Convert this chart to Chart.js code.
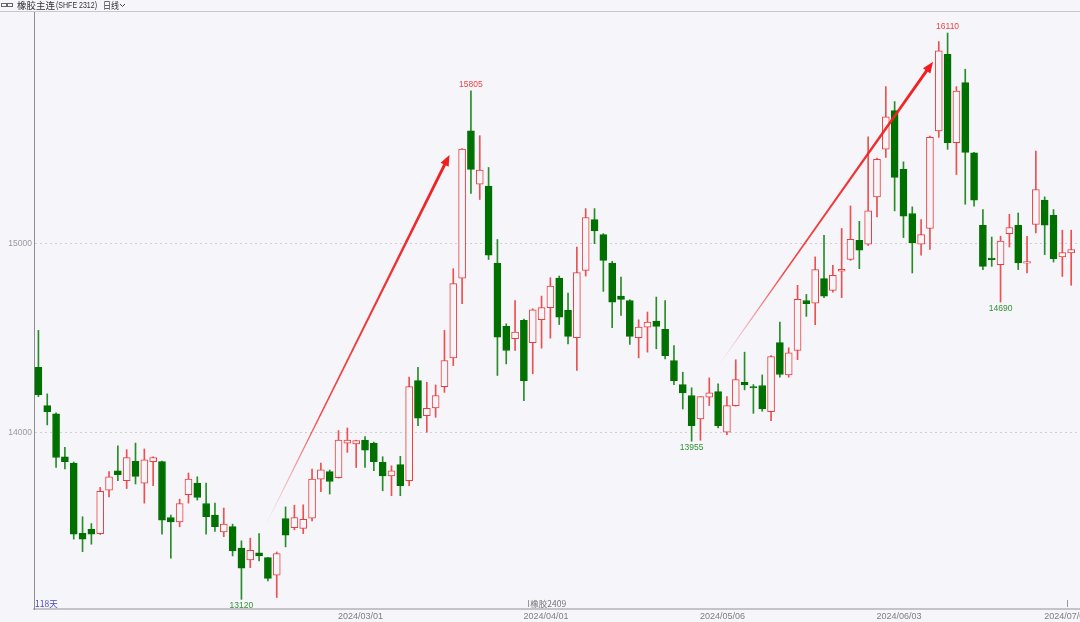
<!DOCTYPE html>
<html><head><meta charset="utf-8">
<script src="https://cdn.jsdelivr.net/npm/chart.js@4.4.1/dist/chart.umd.min.js"></script>
<style>html,body{margin:0;padding:0;background:#f5f5fa;overflow:hidden}#wrap{width:1080px;height:622px;position:relative}</style>
</head><body><div id="wrap"><canvas id="c" width="1080" height="622"></canvas></div>
<script>
// ---------- data ----------
const dates = [
'2024/01/02','2024/01/03','2024/01/04','2024/01/05','2024/01/08','2024/01/09','2024/01/10','2024/01/11','2024/01/12',
'2024/01/15','2024/01/16','2024/01/17','2024/01/18','2024/01/19','2024/01/22','2024/01/23','2024/01/24','2024/01/25',
'2024/01/26','2024/01/29','2024/01/30','2024/01/31',
'2024/02/01','2024/02/02','2024/02/05','2024/02/06','2024/02/07','2024/02/08','2024/02/19','2024/02/20','2024/02/21',
'2024/02/22','2024/02/23','2024/02/26','2024/02/27','2024/02/28','2024/02/29',
'2024/03/01','2024/03/04','2024/03/05','2024/03/06','2024/03/07','2024/03/08','2024/03/11','2024/03/12','2024/03/13',
'2024/03/14','2024/03/15','2024/03/18','2024/03/19','2024/03/20','2024/03/21','2024/03/22','2024/03/25','2024/03/26',
'2024/03/27','2024/03/28','2024/03/29',
'2024/04/01','2024/04/02','2024/04/03','2024/04/08','2024/04/09','2024/04/10','2024/04/11','2024/04/12','2024/04/15',
'2024/04/16','2024/04/17','2024/04/18','2024/04/19','2024/04/22','2024/04/23','2024/04/24','2024/04/25','2024/04/26',
'2024/04/29','2024/04/30',
'2024/05/06','2024/05/07','2024/05/08','2024/05/09','2024/05/10','2024/05/13','2024/05/14','2024/05/15','2024/05/16',
'2024/05/17','2024/05/20','2024/05/21','2024/05/22','2024/05/23','2024/05/24','2024/05/27','2024/05/28','2024/05/29',
'2024/05/30','2024/05/31',
'2024/06/03','2024/06/04','2024/06/05','2024/06/06','2024/06/07','2024/06/11','2024/06/12','2024/06/13','2024/06/14',
'2024/06/17','2024/06/18','2024/06/19','2024/06/20','2024/06/21','2024/06/24','2024/06/25','2024/06/26','2024/06/27',
'2024/06/28',
'2024/07/01'
];
const opens = [
14345,14143,14099,13873,13840,13469,13490,13467,13697,13799,13746,13848,13734,13847,13847,13552,13529,13672,13734,13626,
13565,13476,13504,13390,13328,13365,13340,13247,13547,13499,13494,13549,13755,13794,13763,13945,13940,13961,13945,13843,
13772,13831,13746,14275,14090,14131,14243,14395,14816,15594,15312,15302,14896,14562,14496,14593,14475,14596,14660,14816,
14646,14501,14857,15125,15046,14896,14721,14698,14501,14557,14589,14545,14381,14254,14196,14072,14187,14217,14002,14143,
14266,14243,14249,14111,14475,14305,14434,14698,14684,14813,14751,14853,14915,15016,14995,15245,15497,15700,15390,15157,
14995,15078,15593,15998,15531,15848,15478,15095,14922,14887,15051,15095,14895,15099,15228,15148,14928,14949
];
const highs = [
14540,14205,14105,13922,13845,13556,13520,13711,13795,13931,13910,13945,13914,13872,13850,13565,13649,13787,13767,13734,
13628,13602,13517,13429,13443,13467,13342,13370,13608,13617,13619,13808,13840,13803,14011,14025,13960,13979,13950,13873,
13825,13875,14293,14345,14266,14252,14540,14866,15500,15805,15568,15400,15020,14575,14698,14600,14654,14721,14818,14827,
14737,14980,15183,15183,15051,14905,14822,14702,14596,14637,14716,14698,14460,14319,14237,14190,14289,14258,14190,14385,
14425,14254,14305,14407,14584,14448,14778,14730,14928,15042,14884,15078,15197,15116,15562,15450,15827,15748,15430,15192,
15125,15566,16065,16110,15827,15919,15480,15178,15033,15037,15153,15160,15037,15487,15245,15178,15069,15069
];
const lows = [
14190,14041,13817,13808,13438,13372,13411,13462,13661,13746,13705,13729,13628,13720,13464,13337,13503,13628,13644,13464,
13478,13451,13349,13120,13287,13323,13217,13130,13397,13487,13467,13534,13689,13676,13760,13896,13816,13816,13799,13693,
13667,13667,13720,14037,14002,14081,14213,14354,14681,15263,15231,14914,14302,14363,14434,14169,14311,14446,14499,14571,
14469,14328,14827,14998,14746,14554,14619,14466,14395,14425,14443,14390,14254,14125,13955,13960,14143,14025,13989,14140,
14226,14102,14113,14063,14293,14293,14385,14614,14570,14713,14742,14713,14910,14866,14989,15139,15453,15171,15030,14843,
14937,14967,15559,15496,15363,15206,15196,14861,14878,14690,14980,14861,14843,15054,14940,14901,14825,14778
];
const closes = [
14201,14111,13869,13847,13464,13438,13464,13690,13767,13778,13869,13769,13856,13869,13538,13529,13626,13755,13658,13556,
13504,13517,13376,13284,13379,13349,13231,13361,13459,13552,13543,13755,13804,13742,13961,13961,13958,13908,13847,13772,
13799,13720,14243,14076,14129,14196,14381,14787,15497,15390,15386,14937,14504,14434,14531,14275,14649,14660,14774,14610,
14508,14845,15136,15065,14910,14689,14704,14508,14557,14584,14561,14407,14275,14210,14037,14190,14210,14037,14143,14280,
14252,14236,14125,14402,14307,14422,14704,14681,14861,14720,14831,14862,15021,14963,15171,15443,15668,15348,15143,15002,
15046,15559,16016,15531,15804,15480,15228,14878,14914,15011,15083,14896,14900,15284,15095,14919,14951,14967
];
const yTicks = [14000, 15000];
const xTickLabels = ['2024/03/01','2024/04/01','2024/05/06','2024/06/03','2024/07/01'];
const highMarks = ['2024/03/19','2024/06/11'];
const lowMarks = ['2024/02/02','2024/04/25','2024/06/19'];
// arrows in data space: [startIndex, startValue, endIndex, endValue]
const arrowsData = [[25.7, 13508, 46.57, 15466], [77.2, 14365, 101.35, 15958]];
const titleCn = '橡胶主连';
const titleCode = '(SHFE 2312)';
const periodText = '日线';
const dayCountText = '118天';
const contractText = '橡胶2409';
const contractSwitch = ['2024/03/28', '2024/07/01'];

// ---------- styles ----------
const BG = '#f5f5fa';
const RED = 'rgb(236,62,62)';
const GREEN = 'rgb(0,112,0)';
const RED_WICK = 'rgb(236,80,80)';
const GREEN_WICK = 'rgb(40,140,40)';
const NUMFONT = "'Liberation Sans', 'Noto Sans CJK SC', sans-serif";
const CJKFONT = "'Noto Sans CJK SC', 'Liberation Sans', sans-serif";

const idx = dates.map((d, i) => i);
const isUp = idx.map(i => closes[i] >= opens[i]);
const bodyData = idx.map(i => ({x: i, y: [opens[i], closes[i]]}));
const wickData = idx.map(i => ({x: i, y: [lows[i], highs[i]]}));

function fitText(c, txt, x, y, maxW) {
  const w = c.measureText(txt).width;
  if (w <= maxW) { c.fillText(txt, x, y); return; }
  c.save(); c.translate(x, y); c.scale(maxW / w, 1); c.fillText(txt, 0, 0); c.restore();
}

const decor = {
  id: 'decor',
  beforeDraw(chart) {
    const c = chart.ctx;
    c.save(); c.fillStyle = BG; c.fillRect(0, 0, chart.width, chart.height); c.restore();
  },
  afterDatasetsDraw(chart) {
    const c = chart.ctx, xs = chart.scales.x, ys = chart.scales.y;
    c.save();
    arrowsData.forEach(([i1, v1, i2, v2]) => {
      const x1 = xs.getPixelForValue(i1), y1 = ys.getPixelForValue(v1);
      const x2 = xs.getPixelForValue(i2), y2 = ys.getPixelForValue(v2);
      const ang = Math.atan2(y2 - y1, x2 - x1), len = Math.hypot(x2 - x1, y2 - y1);
      c.save(); c.translate(x1, y1); c.rotate(ang);
      const g = c.createLinearGradient(0, 0, len, 0);
      g.addColorStop(0, 'rgba(240,40,40,0)');
      g.addColorStop(0.3, 'rgba(240,40,40,0.85)');
      g.addColorStop(1, 'rgba(240,30,30,1)');
      const head = 11, hw = 4.5;
      c.fillStyle = g;
      c.beginPath(); c.moveTo(0, -0.4); c.lineTo(len - head + 1, -1.5); c.lineTo(len - head + 1, 1.5); c.lineTo(0, 0.4); c.closePath(); c.fill();
      c.fillStyle = 'rgb(240,30,30)';
      c.beginPath(); c.moveTo(len, 0); c.lineTo(len - head, -hw); c.lineTo(len - head, hw); c.closePath(); c.fill();
      c.restore();
    });
    c.font = '8.5px ' + NUMFONT; c.textAlign = 'center'; c.textBaseline = 'middle';
    highMarks.forEach(d => {
      const i = dates.indexOf(d);
      c.fillStyle = 'rgb(236,70,70)';
      c.fillText(String(highs[i]), xs.getPixelForValue(i), ys.getPixelForValue(highs[i]) - 6);
    });
    lowMarks.forEach(d => {
      const i = dates.indexOf(d);
      c.fillStyle = 'rgb(50,145,50)';
      c.fillText(String(lows[i]), xs.getPixelForValue(i), ys.getPixelForValue(lows[i]) + 6.5);
    });
    c.restore();
  },
  afterDraw(chart) {
    const c = chart.ctx, xs = chart.scales.x, a = chart.chartArea;
    c.save();
    c.strokeStyle = '#c8c8cc'; c.lineWidth = 1;
    c.beginPath(); c.moveTo(0, 11.5); c.lineTo(chart.width, 11.5); c.stroke();
    c.strokeStyle = '#666'; c.lineWidth = 1;
    c.strokeRect(1.5, 3.5, 5, 3); c.strokeRect(7.5, 3.5, 5, 3);
    c.fillStyle = '#333'; c.textBaseline = 'middle'; c.textAlign = 'left';
    c.font = '9.5px ' + CJKFONT;
    fitText(c, titleCn, 17, 5.5, 38);
    c.font = '9px ' + NUMFONT;
    fitText(c, titleCode, 56, 5.5, 41);
    c.font = '9.5px ' + CJKFONT;
    fitText(c, periodText, 103, 5.5, 16);
    c.strokeStyle = '#444';
    c.beginPath(); c.moveTo(120, 4); c.lineTo(122.5, 6.5); c.lineTo(125, 4); c.stroke();
    c.font = '9px ' + NUMFONT; c.fillStyle = '#808080'; c.textAlign = 'center';
    xTickLabels.forEach(l => {
      const i = dates.indexOf(l);
      c.fillText(l, xs.getPixelForValue(i - 0.5), 617);
    });
    c.font = '8.5px ' + CJKFONT; c.fillStyle = 'rgb(70,70,200)'; c.textAlign = 'left';
    c.fillText(dayCountText, a.left + 1, 603.5);
    c.strokeStyle = '#999'; c.lineWidth = 1;
    contractSwitch.forEach(d => {
      const px = Math.round(xs.getPixelForValue(dates.indexOf(d) - 0.5)) + 0.5;
      c.beginPath(); c.moveTo(px, 600); c.lineTo(px, 607); c.stroke();
    });
    c.fillStyle = '#777'; c.font = '8.5px ' + CJKFONT;
    c.fillText(contractText, xs.getPixelForValue(dates.indexOf(contractSwitch[0]) - 0.5) + 2, 604);
    c.restore();
  }
};

new Chart(document.getElementById('c'), {
  type: 'bar',
  data: {
    datasets: [
      { label: 'body', data: bodyData, order: 0, grouped: false, barThickness: 7, minBarLength: 1.5,
        backgroundColor: idx.map(i => isUp[i] ? BG : GREEN),
        borderColor: idx.map(i => isUp[i] ? RED : GREEN),
        borderWidth: 1, borderSkipped: false },
      { label: 'wick', data: wickData, order: 1, grouped: false, barThickness: 1,
        backgroundColor: idx.map(i => isUp[i] ? RED_WICK : GREEN_WICK), borderWidth: 0 }
    ]
  },
  options: {
    responsive: false, animation: false, devicePixelRatio: 1,
    layout: { padding: { top: 12, left: 0, right: 0, bottom: 0 } },
    plugins: { legend: { display: false }, tooltip: { enabled: false } },
    scales: {
      x: { type: 'linear', min: -0.5, max: 118, offset: false,
        grid: { display: false }, ticks: { display: false },
        border: { display: true, color: '#c4c4c8', width: 2 },
        afterFit: s => { s.height = 13; } },
      y: { type: 'linear', min: 13069, max: 16221,
        afterBuildTicks: s => { s.ticks = yTicks.map(v => ({ value: v })); },
        afterFit: s => { s.width = 34; },
        ticks: { color: '#9a9a9a', font: { size: 8.5, family: NUMFONT }, padding: 2, callback: v => String(v) },
        grid: { color: '#cfcfd4', drawTicks: false, lineWidth: 1 },
        border: { display: true, color: '#8e8e92', width: 1, dash: [2, 3] } }
    }
  },
  plugins: [decor]
});
</script></body></html>
